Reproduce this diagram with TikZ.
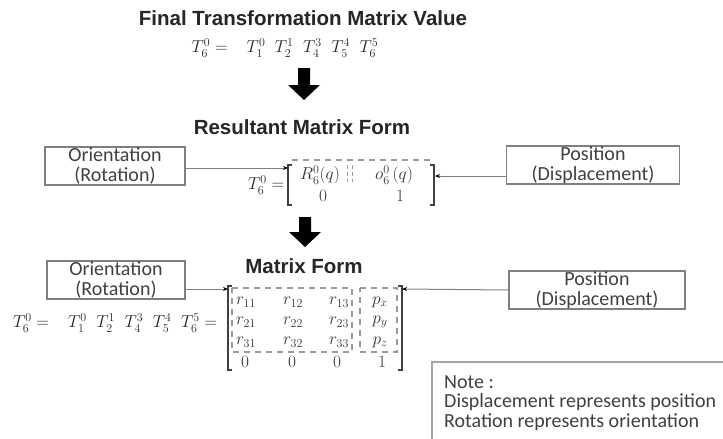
\documentclass[tikz,border=0pt]{standalone}
\usepackage{fontspec}
\setmainfont{Carlito}
\newfontfamily\titlefont{Liberation Sans}
\usetikzlibrary{arrows.meta}
\definecolor{boxgray}{HTML}{7F7F7F}
\definecolor{txtgray}{HTML}{404040}
\definecolor{dashgray}{HTML}{9A9A9A}
\tikzset{
  title/.style={font=\titlefont\bfseries\fontsize{20.5}{24}\selectfont, text=black!85, inner sep=0},
  labelbox/.style={draw=boxgray, line width=1.2pt, text=txtgray, font=\fontsize{20}{21}\selectfont, align=center, inner sep=0, minimum height=38pt},
  mathtxt/.style={font=\fontsize{17.5}{20}\selectfont, inner sep=0, text=black!85},
  entry/.style={font=\fontsize{17}{19}\selectfont, inner sep=0, text=black!80},
  bigarrow/.style={fill=black},
  thinarrow/.style={draw=boxgray, line width=1pt, -{Stealth[length=5pt,width=4pt,black]}},
  bracket/.style={draw=black!75, line width=1.2pt},
  dashline/.style={draw=dashgray, line width=1.3pt, dash pattern=on 6pt off 5pt},
  notetxt/.style={font=\fontsize{20}{22}\selectfont, text=txtgray, inner sep=0, anchor=west}
}
\begin{document}
\begin{tikzpicture}[x=1pt,y=-1pt]
\useasboundingbox (0,0) rectangle (723,439);

% ---------- Top ----------
\node[title] (t1) at (303,18) {Final Transformation Matrix Value};
\node[mathtxt] (eq1) at (285,48) {$T_6^0 =\;\;\; T_1^0\;\; T_2^1\;\; T_4^3\;\; T_5^4\;\; T_6^5$};
\fill[bigarrow] (298,68) -- (310,68) -- (310,85) -- (320,85) -- (304,100) -- (288,85) -- (298,85) -- cycle;

% ---------- Resultant ----------
\node[title] (t2) at (302,127) {Resultant Matrix Form};
\node[labelbox, minimum width=140pt] (or1) at (115,166) {Orientation\\[-1pt](Rotation)};
\node[labelbox, minimum width=173pt] (pos1) at (593,165) {Position\\[-1pt](Displacement)};

\node[mathtxt] (T0a) at (266,185) {$T_6^0 =$};
\node[entry] (R) at (320,175) {$R_6^0(q)$};
\node[entry] (o) at (394,175) {$o_6^0\,(q)$};
\node[entry] (z1) at (323,196) {$0$};
\node[entry] (one1) at (400,196) {$1$};
\draw[bracket] (292,165) -- (288,165) -- (288,205) -- (292,205);
\draw[bracket] (430,165) -- (434,165) -- (434,205) -- (430,205);
\draw[dashline] (292,160) -- (434,160);
\draw[draw=dashgray, line width=1pt, dash pattern=on 4pt off 3pt] (347,165) -- (347,182) (352,165) -- (352,182);
\draw[thinarrow] (or1.east |- 0,168) -- (288,168);
\draw[thinarrow] (pos1.west |- 0,176) -- (435,176);

\fill[bigarrow] (299,217) -- (311,217) -- (311,232) -- (321,232) -- (305,247) -- (289,232) -- (299,232) -- cycle;

% ---------- Matrix form ----------
\node[title] (t3) at (304,266) {Matrix Form};
\node[labelbox, minimum width=138pt] (or2) at (116,280) {Orientation\\[-1pt](Rotation)};
\node[labelbox, minimum width=176pt] (pos2) at (597,290) {Position\\[-1pt](Displacement)};

\node[mathtxt] (eq2) at (115,323) {$T_6^0 =\;\;\; T_1^0\;\; T_2^1\;\; T_4^3\;\; T_5^4\;\; T_6^5 =$};

\draw[bracket] (232,286) -- (228,286) -- (228,370) -- (232,370);
\draw[bracket] (398,286) -- (402,286) -- (402,370) -- (398,370);
\draw[dashline] (232,288) -- (352,288) -- (352,352) -- (232,352) -- cycle;
\draw[dashline] (360,288) -- (397,288) -- (397,352) -- (360,352) -- cycle;

\foreach \r/\y in {1/302,2/322,3/342}{
  \node[entry] (m\r1) at (246,\y) {$r_{\r1}$};
  \node[entry] (m\r2) at (293,\y) {$r_{\r2}$};
  \node[entry] (m\r3) at (339,\y) {$r_{\r3}$};
}
\node[entry] (px) at (380,302) {$p_x$};
\node[entry] (py) at (380,322) {$p_y$};
\node[entry] (pz) at (380,342) {$p_z$};
\node[entry] (z41) at (245,362) {$0$};
\node[entry] (z42) at (292,362) {$0$};
\node[entry] (z43) at (337,362) {$0$};
\node[entry] (one2) at (382,362) {$1$};

\draw[thinarrow] (or2.east |- 0,289) -- (228,289);
\draw[thinarrow] (pos2.west) -- (402,289);

% ---------- Note ----------
\draw[draw=boxgray!70, line width=1.2pt] (732,362) -- (432,362) -- (432,448);
\node[notetxt] (n1) at (444,382) {Note :};
\node[notetxt] (n2) at (444,402) {Displacement represents position};
\node[notetxt] (n3) at (444,422) {Rotation represents orientation};
\end{tikzpicture}
\end{document}
